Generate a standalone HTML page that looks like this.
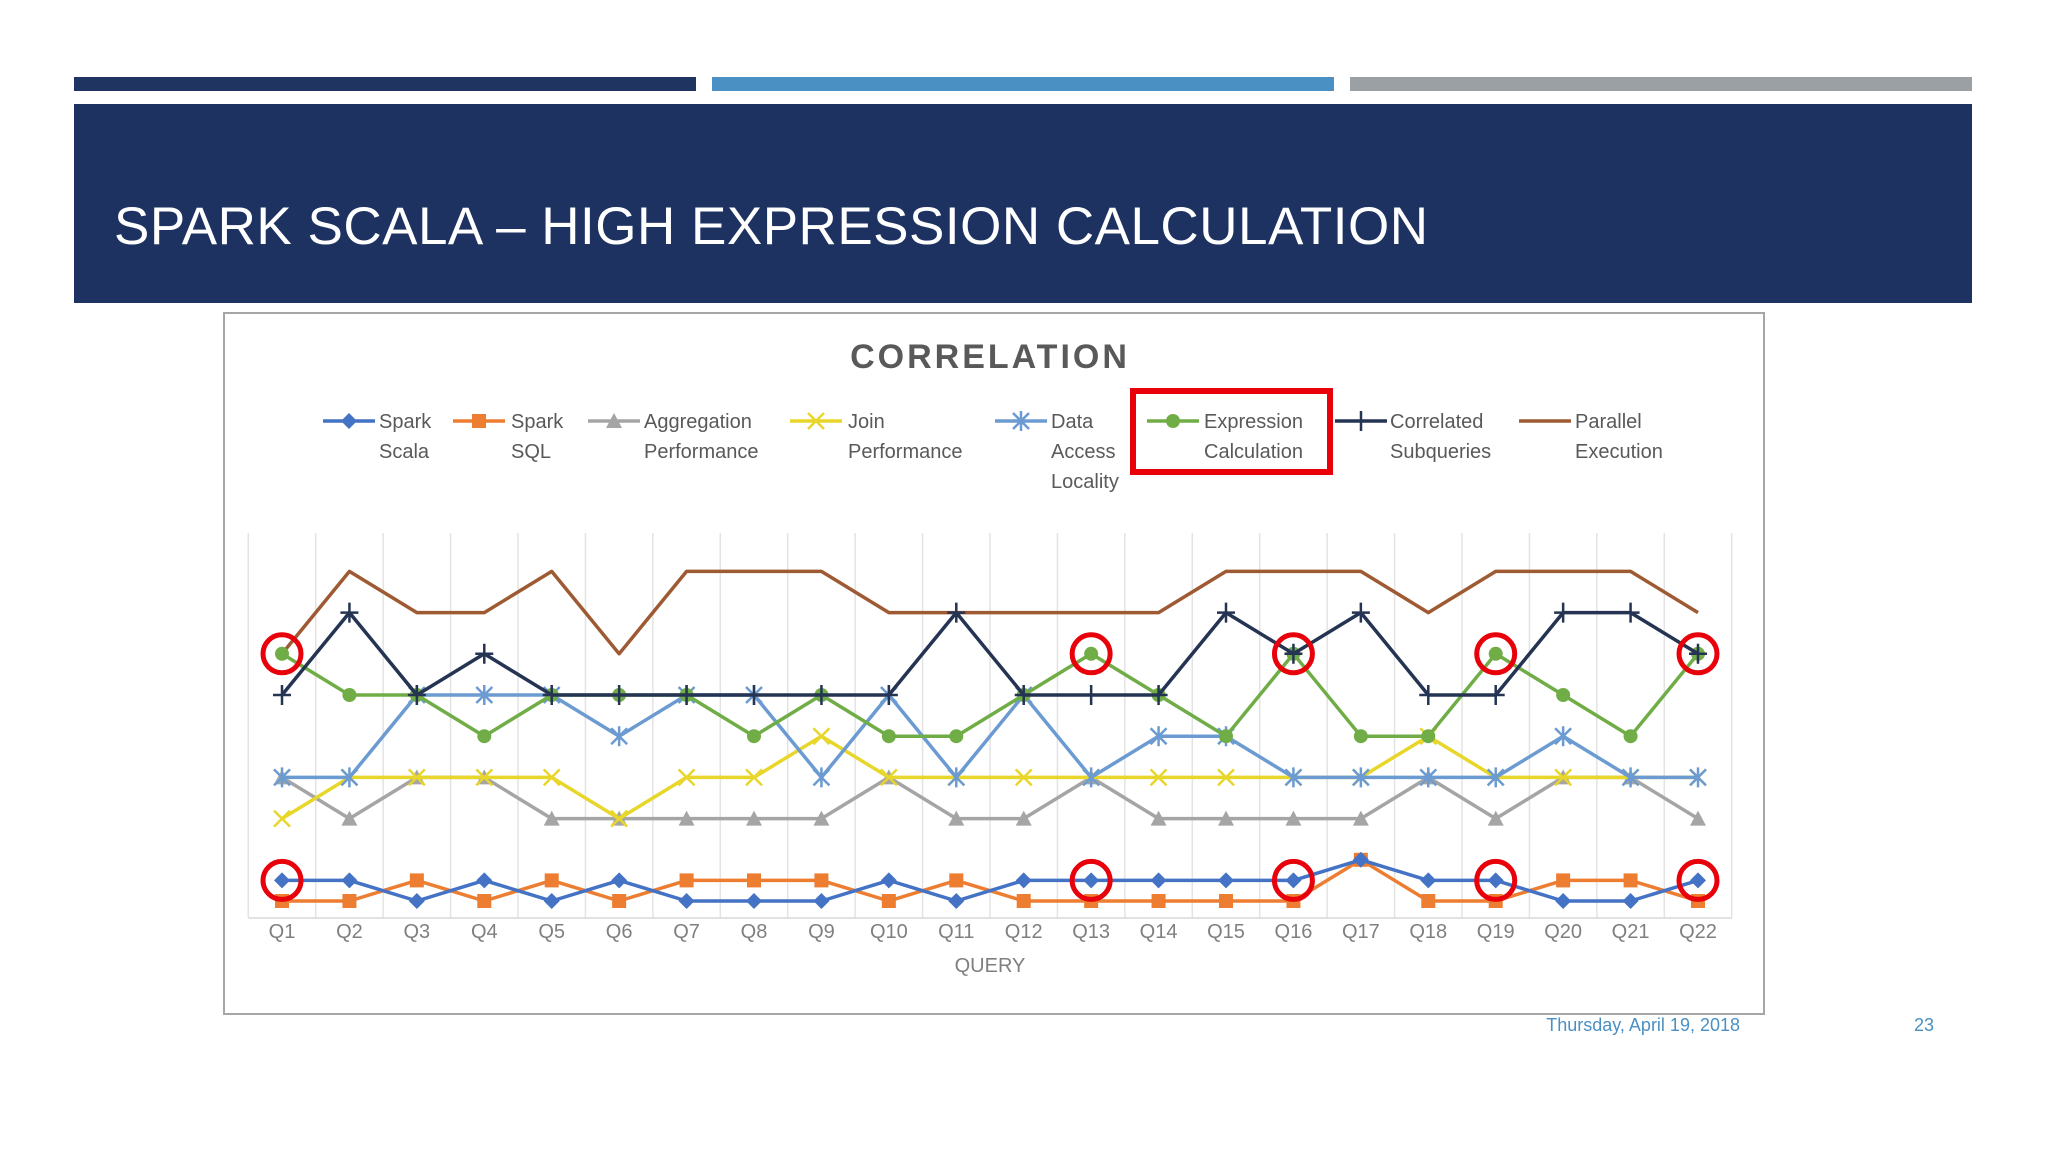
<!DOCTYPE html>
<html><head><meta charset="utf-8"><style>
body{margin:0;width:2048px;height:1152px;background:#fff;overflow:hidden;font-family:"Liberation Sans",sans-serif;position:relative}
.bar{position:absolute;top:77px;height:14px}
#hdr{position:absolute;left:74px;top:104px;width:1898px;height:199px;background:#1d3261}
#hdr h1{margin:0;position:absolute;left:40px;top:92px;color:#fff;font-weight:normal;font-size:53px;letter-spacing:0.5px}
#chartbox{position:absolute;left:223px;top:312px;width:1538px;height:699px;border:2px solid #a6a6a6;background:#fff}
.foot{position:absolute;top:1015px;color:#4a90c2;font-size:18px}
</style></head><body>
<div class="bar" style="left:74px;width:622px;background:#1f3460"></div>
<div class="bar" style="left:712px;width:622px;background:#4a90c2"></div>
<div class="bar" style="left:1350px;width:622px;background:#9aa0a3"></div>
<div id="hdr"><h1>SPARK SCALA – HIGH EXPRESSION CALCULATION</h1></div>
<div id="chartbox"></div>
<svg id="chart" width="2048" height="1152" style="position:absolute;left:0;top:0"></svg>
<div class="foot" style="left:1500px;width:240px;text-align:right">Thursday, April 19, 2018</div>
<div class="foot" style="left:1914px">23</div>
<script>
const categories=["Q1","Q2","Q3","Q4","Q5","Q6","Q7","Q8","Q9","Q10","Q11","Q12","Q13","Q14","Q15","Q16","Q17","Q18","Q19","Q20","Q21","Q22"];
const sparkScala=[1,1,0,1,0,1,0,0,0,1,0,1,1,1,1,1,2,1,1,0,0,1];
const sparkSQL=[0,0,1,0,1,0,1,1,1,0,1,0,0,0,0,0,2,0,0,1,1,0];
const aggregation=[6,4,6,6,4,4,4,4,4,6,4,4,6,4,4,4,4,6,4,6,6,4];
const join=[4,6,6,6,6,4,6,6,8,6,6,6,6,6,6,6,6,8,6,6,6,6];
const dataAccess=[6,6,10,10,10,8,10,10,6,10,6,10,6,8,8,6,6,6,6,8,6,6];
const expression=[12,10,10,8,10,10,10,8,10,8,8,10,12,10,8,12,8,8,12,10,8,12];
const correlated=[10,14,10,12,10,10,10,10,10,10,14,10,10,10,14,12,14,10,10,14,14,12];
const parallel=[12,16,14,14,16,12,16,16,16,14,14,14,14,14,16,16,16,14,16,16,16,14];
const highlighted=["Q1","Q13","Q16","Q19","Q22"];
const NS="http://www.w3.org/2000/svg";
const svg=document.getElementById('chart');
const X0=282,XS=(1698-282)/21,Y0=901,YU=20.6;
const xp=i=>X0+i*XS, yp=v=>Y0-v*YU;
function mk(t,a,p){const e=document.createElementNS(NS,t);for(const k in a)e.setAttribute(k,a[k]);(p||svg).appendChild(e);return e;}
for(let i=0;i<=categories.length;i++){const g=mk('line',{x1:xp(i)-XS/2,x2:xp(i)-XS/2,y1:533,y2:918,stroke:'#e3e3e3','stroke-width':1.5});
}
mk('line',{x1:xp(0)-XS/2,x2:xp(21)+XS/2,y1:918,y2:918,stroke:'#d9d9d9','stroke-width':1.5});
const t=mk('text',{x:990,y:368,'text-anchor':'middle','font-size':34,'font-weight':'bold',fill:'#595959','letter-spacing':3});t.textContent='CORRELATION';

categories.forEach((c,i)=>{const e=mk('text',{x:xp(i),y:938,'text-anchor':'middle','font-size':20,fill:'#7f7f7f'});e.textContent=c;
});
const xt=mk('text',{x:990,y:972,'text-anchor':'middle','font-size':20,fill:'#7f7f7f'});xt.textContent='QUERY';

function marker(type,x,y,col,g){
 if(type==='diamond')mk('polygon',{points:`${x},${y-8} ${x+8},${y} ${x},${y+8} ${x-8},${y}`,fill:col},g);
 else if(type==='square')mk('rect',{x:x-7,y:y-7,width:14,height:14,fill:col},g);
 else if(type==='tri')mk('polygon',{points:`${x},${y-8} ${x+8},${y+7} ${x-8},${y+7}`,fill:col},g);
 else if(type==='x'){mk('path',{d:`M${x-8} ${y-8}L${x+8} ${y+8}M${x+8} ${y-8}L${x-8} ${y+8}`,stroke:col,'stroke-width':2.5},g);}
 else if(type==='ast'){mk('path',{d:`M${x-8} ${y-8}L${x+8} ${y+8}M${x+8} ${y-8}L${x-8} ${y+8}M${x} ${y-10}L${x} ${y+10}`,stroke:col,'stroke-width':2.5},g);}
 else if(type==='circle')mk('circle',{cx:x,cy:y,r:7,fill:col},g);
 else if(type==='plus'){mk('path',{d:`M${x-9} ${y}L${x+9} ${y}M${x} ${y-10}L${x} ${y+10}`,stroke:col,'stroke-width':2.5},g);}
}
const series=[
 {n:'series-parallel-execution',d:parallel,c:'#9e5a33',m:null},
 {n:'series-aggregation-performance',d:aggregation,c:'#a5a5a5',m:'tri'},
 {n:'series-join-performance',d:join,c:'#e8d62a',m:'x'},
 {n:'series-data-access-locality',d:dataAccess,c:'#6b9bd1',m:'ast'},
 {n:'series-expression-calculation',d:expression,c:'#70ad47',m:'circle'},
 {n:'series-correlated-subqueries',d:correlated,c:'#243452',m:'plus'},
 {n:'series-spark-sql',d:sparkSQL,c:'#ed7d31',m:'square'},
 {n:'series-spark-scala',d:sparkScala,c:'#4472c4',m:'diamond'}];
series.forEach(s=>{const g=mk('g',{});
 mk('polyline',{points:s.d.map((v,i)=>xp(i)+','+yp(v)).join(' '),fill:'none',stroke:s.c,'stroke-width':3.5,'stroke-linejoin':'round'},g);
 if(s.m)s.d.forEach((v,i)=>marker(s.m,xp(i),yp(v),s.c,g));});
highlighted.forEach(q=>{const i=categories.indexOf(q);
 [expression[i],sparkScala[i]].forEach(v=>{const c=mk('circle',{cx:xp(i),cy:yp(v),r:19,fill:'none',stroke:'#e8000b','stroke-width':5});
 });});
const leg=[[323,379,'#4472c4','diamond',['Spark','Scala']],[453,511,'#ed7d31','square',['Spark','SQL']],[588,644,'#a5a5a5','tri',['Aggregation','Performance']],
[790,848,'#e8d62a','x',['Join','Performance']],[995,1051,'#6b9bd1','ast',['Data','Access','Locality']],[1147,1204,'#70ad47','circle',['Expression','Calculation']],
[1335,1390,'#243452','plus',['Correlated','Subqueries']],[1519,1575,'#9e5a33',null,['Parallel','Execution']]];
leg.forEach(l=>{const g=mk('g',{});
 mk('line',{x1:l[0],x2:l[0]+52,y1:421,y2:421,stroke:l[2],'stroke-width':3.5},g);
 if(l[3])marker(l[3],l[0]+26,421,l[2],g);
 l[4].forEach((w,k)=>{const e=mk('text',{x:l[1],y:428+k*30,'font-size':20,fill:'#595959'},g);e.textContent=w;});});
const rb=mk('rect',{x:1133,y:391,width:197,height:81,fill:'none',stroke:'#e8000b','stroke-width':6});

</script>
</body></html>
